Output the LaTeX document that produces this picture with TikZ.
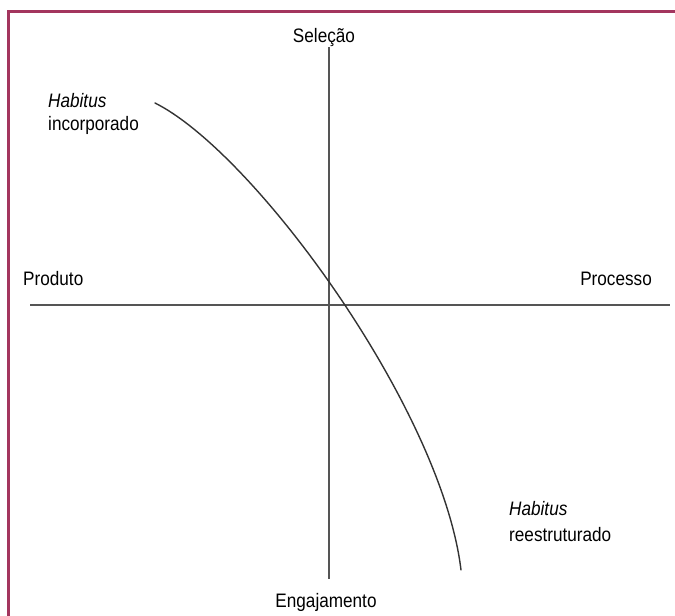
\documentclass[tikz,border=0pt]{standalone}
\usepackage{fontspec}
\setmainfont{Liberation Sans}
\usetikzlibrary{positioning}

\definecolor{framecol}{RGB}{163,53,94}
\definecolor{axiscol}{RGB}{85,85,85}
\newcommand{\nar}[1]{\scalebox{0.88}[1]{#1}}

\begin{document}
\begin{tikzpicture}[x=1pt,y=-1pt,
    lbl/.style={inner sep=0pt,font=\fontsize{19.5}{23}\selectfont},
    axis/.style={draw=axiscol,line width=1.4pt},
    curve/.style={draw=black!80,line width=1.4pt}]

   \useasboundingbox (0,0) rectangle (675,616);

   % frame
   \draw[framecol,line width=3pt] (675,11) -- (8.5,11) -- (8.5,616);

   % axes ends
   \coordinate (top)    at (329,47);
   \coordinate (bottom) at (329,579);
   \coordinate (left)   at (30,305);
   \coordinate (right)  at (670,305);
   \draw[axis] (top) -- (bottom);
   \draw[axis] (left) -- (right);

   % axis labels
   \node[lbl,anchor=base] (selecao) at (324,42) {\nar{Seleção}};
   \node[lbl,anchor=base] (engaj)   at (326,607) {\nar{Engajamento}};
   \node[lbl,anchor=base west] (produto)  at (23,285) {\nar{Produto}};
   \node[lbl,anchor=base east] (processo) at (652,285) {\nar{Processo}};

   % habitus labels
   \node[lbl,anchor=base west] (habA) at (48,107) {\nar{\itshape Habitus}};
   \node[lbl,anchor=base west] (incorp) at ([yshift=-23pt]habA.base west) {\nar{incorporado}};
   \node[lbl,anchor=base west] (habB) at (509,515) {\nar{\itshape Habitus}};
   \node[lbl,anchor=base west] (reestr) at ([yshift=-26pt]habB.base west) {\nar{reestruturado}};

   % curve
   \coordinate (cstart) at (155,103);
   \coordinate (cend)   at (461,570);
   \draw[curve,line cap=round] (cstart) .. controls (255,153) and (441.8,410) .. (cend);
\end{tikzpicture}
\end{document}
